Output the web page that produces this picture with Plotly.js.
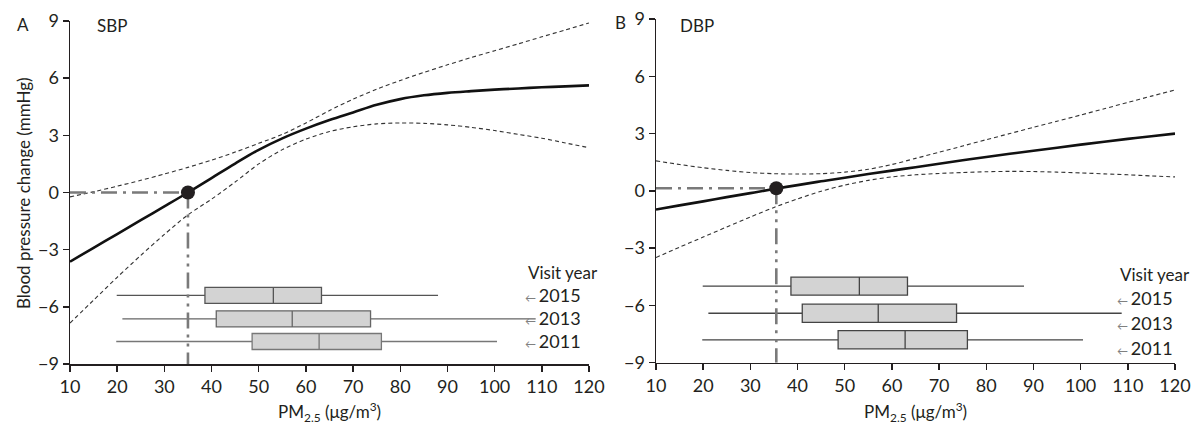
<!DOCTYPE html>
<html>
<head>
<meta charset="utf-8">
<script src="https://cdn.plot.ly/plotly-3.0.1.min.js"></script>
<style>html,body{margin:0;padding:0;background:#fff}#chart{width:1194px;height:425px}</style>
</head>
<body>
<div id="chart"></div>
<script>
// PM2.5 grid (µg/m3)
const pm = [10,15,20,25,30,35,40,45,50,55,60,65,70,75,80,85,90,95,100,105,110,115,120];

// Panel A: SBP change (mmHg)
const sbpFit   = [-3.63,-2.9,-2.18,-1.45,-0.73,0,0.76,1.52,2.24,2.84,3.35,3.8,4.2,4.6,4.9,5.1,5.23,5.32,5.4,5.46,5.52,5.57,5.62];
const sbpUpper = [-0.23,0.04,0.33,0.64,0.97,1.32,1.7,2.12,2.58,3.05,3.65,4.3,4.9,5.42,5.88,6.3,6.7,7.08,7.44,7.8,8.17,8.53,8.9];
const sbpLower = [-6.85,-5.65,-4.45,-3.3,-2.2,-1.17,-0.35,0.55,1.5,2.25,2.8,3.2,3.45,3.6,3.65,3.63,3.55,3.42,3.25,3.05,2.85,2.6,2.35];

// Panel B: DBP change (mmHg)
const dbpFit   = [-0.98,-0.76,-0.55,-0.33,-0.12,0.1,0.3,0.5,0.69,0.88,1.06,1.24,1.42,1.6,1.77,1.94,2.1,2.26,2.42,2.57,2.72,2.86,3.0];
const dbpUpper = [1.57,1.38,1.21,1.07,0.96,0.9,0.88,0.9,0.98,1.13,1.38,1.7,2.02,2.35,2.68,3.0,3.33,3.65,3.97,4.3,4.63,4.96,5.28];
const dbpLower = [-3.49,-2.95,-2.42,-1.89,-1.37,-0.87,-0.42,-0.02,0.3,0.55,0.73,0.84,0.91,0.96,1.0,1.02,1.01,0.98,0.94,0.89,0.84,0.78,0.73];

// Threshold points
const sbpThresholdX = 35,   sbpThresholdY = 0;
const dbpThresholdX = 35.5, dbpThresholdY = 0.14;

// PM2.5 distribution by visit year
const visitYears  = ['2015','2013','2011'];
const pmLowFence  = [19.9, 21.1, 19.8];
const pmQ1        = [38.6, 41.0, 48.6];
const pmMedian    = [53.1, 57.1, 62.8];
const pmQ3        = [63.3, 73.7, 76.0];
const pmHighFence = [88.0, 108.7, 100.5];

// tick values
const yTicks = [-9,-6,-3,0,3,6,9];
const xTicks = [10,20,30,40,50,60,70,80,90,100,110,120];

// ---- layout helpers (positions only) ----
const W = 1194, H = 425;
const px = v => v / W, py = v => 1 - v / H;
const boxRowsA = [-5.40, -6.63, -7.82];
const boxRowsB = [-4.99, -6.41, -7.80];
const FONT = 'Lato, "Liberation Sans", sans-serif';
const TXT = '#231f20';

const traces = [];
function panel(xa, ya, fit, up, lo, tx, ty, rows, boxW, boxLine) {
  traces.push({x: pm, y: up, xaxis: xa, yaxis: ya, mode: 'lines', line: {color: '#333', width: 1.1, dash: '4px,3px', shape: 'spline', smoothing: 0.8}, hoverinfo: 'skip'});
  traces.push({x: pm, y: lo, xaxis: xa, yaxis: ya, mode: 'lines', line: {color: '#333', width: 1.1, dash: '4px,3px', shape: 'spline', smoothing: 0.8}, hoverinfo: 'skip'});
  // reference lines to threshold
  traces.push({x: [10, tx], y: [ty, ty], xaxis: xa, yaxis: ya, mode: 'lines', line: {color: '#7a7a7a', width: 2.6, dash: '16px,6px,3px,6px'}, hoverinfo: 'skip'});
  traces.push({x: [tx, tx], y: [ty, -9], xaxis: xa, yaxis: ya, mode: 'lines', line: {color: '#7a7a7a', width: 2.6, dash: '16px,6px,3px,6px,3px,6px'}, hoverinfo: 'skip'});
  for (let i = 0; i < visitYears.length; i++) {
    traces.push({type: 'box', orientation: 'h', xaxis: xa, yaxis: ya, name: visitYears[i],
      y: [rows[i]], q1: [pmQ1[i]], median: [pmMedian[i]], q3: [pmQ3[i]],
      lowerfence: [pmLowFence[i]], upperfence: [pmHighFence[i]],
      width: boxW, whiskerwidth: 0, fillcolor: '#d3d3d3',
      line: {color: boxLine[i], width: 1.3}, boxpoints: false, hoverinfo: 'skip'});
  }
  traces.push({x: pm, y: fit, xaxis: xa, yaxis: ya, mode: 'lines', line: {color: '#111', width: 2.6, shape: 'spline', smoothing: 1}, hoverinfo: 'skip'});
  traces.push({x: [tx], y: [ty], xaxis: xa, yaxis: ya, mode: 'markers', marker: {size: 14, color: '#231f20'}, hoverinfo: 'skip'});
}
panel('x', 'y', sbpFit, sbpUpper, sbpLower, sbpThresholdX, sbpThresholdY, boxRowsA, 0.84, ['#555', '#666', '#777']);
panel('x2', 'y2', dbpFit, dbpUpper, dbpLower, dbpThresholdX, dbpThresholdY, boxRowsB, 0.95, ['#444', '#444', '#444']);

const xAxisBase = {range: [10, 120], tickvals: xTicks, showgrid: false, zeroline: false, showline: true,
  linecolor: '#231f20', linewidth: 1.5, ticks: 'outside', ticklen: 6, tickwidth: 1.5, tickcolor: '#231f20',
  tickfont: {family: FONT, size: 18, color: TXT}, fixedrange: true};
const yAxisBase = {range: [-9, 9], tickvals: yTicks, showgrid: false, zeroline: false, showline: true,
  linecolor: '#231f20', linewidth: 1.5, ticks: 'outside', ticklen: 6, tickwidth: 1.5, tickcolor: '#231f20',
  tickfont: {family: FONT, size: 18, color: TXT}, fixedrange: true};

function ann(text, x, y, opts) {
  return Object.assign({text: text, xref: 'paper', yref: 'paper', x: px(x), y: py(y), showarrow: false,
    xanchor: 'center', yanchor: 'middle', font: {family: FONT, size: 18, color: TXT}}, opts || {});
}
const arrow = '<span style="color:#808080;font-size:11px">← </span>';
const xTitle = 'PM<sub>2.5</sub> (μg/m<sup>3</sup>)';
const annotations = [
  ann('A', 23, 24, {font: {family: FONT, size: 17, color: TXT}}),
  ann('SBP', 112, 25, {font: {family: FONT, size: 17, color: TXT}}),
  ann('B', 620, 23, {font: {family: FONT, size: 17, color: TXT}}),
  ann('DBP', 697, 25, {font: {family: FONT, size: 17, color: TXT}}),
  ann('Blood pressure change (mmHg)', 23, 193, {textangle: -90, font: {family: FONT, size: 17, color: TXT}}),
  ann(xTitle, 329.5, 412, {font: {family: FONT, size: 17, color: TXT}}),
  ann(xTitle, 915.5, 412, {font: {family: FONT, size: 17, color: TXT}}),
  ann('Visit year', 600, 272, {xanchor: 'right', font: {family: FONT, size: 17, color: TXT}}),
  ann('Visit year', 1192, 274, {xanchor: 'right', font: {family: FONT, size: 17, color: TXT}})
];
const yearYA = [295, 318.3, 341], yearYB = [298, 323, 347.6];
for (let i = 0; i < visitYears.length; i++) {
  annotations.push(ann(arrow + visitYears[i], 583, yearYA[i], {xanchor: 'right'}));
  annotations.push(ann(arrow + visitYears[i], 1175, yearYB[i], {xanchor: 'right'}));
}

const layout = {
  width: W, height: H, margin: {l: 0, r: 0, t: 0, b: 0},
  paper_bgcolor: '#fff', plot_bgcolor: '#fff', showlegend: false, boxmode: 'overlay',
  xaxis: Object.assign({}, xAxisBase, {domain: [px(70), px(589)], anchor: 'y'}),
  yaxis: Object.assign({}, yAxisBase, {domain: [(H - 364) / H, (H - 21) / H], anchor: 'x'}),
  xaxis2: Object.assign({}, xAxisBase, {domain: [px(656), px(1175)], anchor: 'y2'}),
  yaxis2: Object.assign({}, yAxisBase, {domain: [(H - 362.7) / H, (H - 19) / H], anchor: 'x2'}),
  annotations: annotations
};
Plotly.newPlot('chart', traces, layout, {displayModeBar: false, staticPlot: true});
</script>
</body>
</html>
